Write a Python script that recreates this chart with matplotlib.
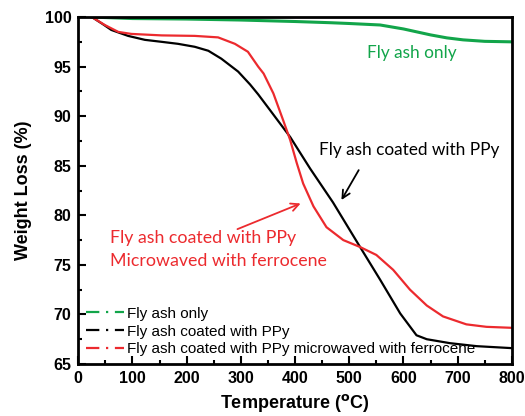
import matplotlib
matplotlib.use('Agg')
import matplotlib.pyplot as plt
from matplotlib.lines import Line2D

# TGA curves (temperature in C, weight in %)
green_T = [25, 100, 200, 300, 400, 465, 500, 557, 600, 650, 680, 710, 750, 800]
green_W = [100.0, 99.85, 99.8, 99.7, 99.55, 99.43, 99.35, 99.2, 98.8, 98.2, 97.9, 97.7, 97.55, 97.5]

black_T = [25, 28, 45, 61, 92, 123, 154, 184, 215, 240, 264, 295, 317, 332, 354, 391, 428,
           470, 520, 557, 594, 624, 643, 686, 735, 800]
black_W = [100.0, 99.9, 99.3, 98.7, 98.1, 97.7, 97.5, 97.3, 97.0, 96.6, 95.8, 94.5, 93.2, 92.2,
           90.6, 87.9, 84.7, 81.3, 76.8, 73.5, 70.1, 67.9, 67.5, 67.1, 66.8, 66.6]

red_T = [25, 49, 74, 98, 154, 215, 258, 289, 313, 332, 342, 360, 378, 391, 403, 415, 434, 458,
         489, 520, 550, 581, 612, 643, 673, 716, 753, 800]
red_W = [100.0, 99.2, 98.5, 98.3, 98.15, 98.1, 97.95, 97.3, 96.5, 95.0, 94.3, 92.3, 89.6, 87.6,
         85.3, 83.2, 80.9, 78.8, 77.5, 76.8, 76.0, 74.5, 72.5, 70.9, 69.8, 69.0, 68.75, 68.65]

labels = ['Fly ash only', 'Fly ash coated with PPy', 'Fly ash coated with PPy microwaved with ferrocene']

green = '#12a54a'
red = '#ec2a2e'
black = 'black'

plt.rcParams['font.family'] = ['Liberation Sans', 'DejaVu Sans']

fig = plt.figure(figsize=(5.25, 4.16), dpi=100)
ax = fig.add_axes([0.149, 0.125, 0.826, 0.834])

ax.plot(green_T, green_W, color=green, lw=2.2)
ax.plot(black_T, black_W, color=black, lw=1.6)
ax.plot(red_T, red_W, color=red, lw=1.6)

ax.set_xlim(0, 800)
ax.set_ylim(65, 100)
ax.set_xticks(range(0, 801, 100))
ax.set_xticks(range(50, 801, 100), minor=True)
ax.set_yticks(range(65, 101, 5))
ax.set_yticks([67.5 + 5 * i for i in range(7)], minor=True)
ax.tick_params(which='major', direction='in', length=6, width=1.5, labelsize=11.5, pad=5)
ax.tick_params(which='minor', direction='in', length=3, width=1.5)
for lab in ax.get_xticklabels() + ax.get_yticklabels():
    lab.set_fontweight('bold')
for sp in ax.spines.values():
    sp.set_linewidth(2)

ax.set_xlabel(r'Temperature ($^{\mathbf{o}}$C)', fontsize=13, fontweight='bold', labelpad=4)
ax.set_ylabel('Weight Loss (%)', fontsize=13, fontweight='bold', labelpad=9)

# annotations
ax.text(616, 96.4, 'Fly ash only', color=green, fontsize=12.4, family='Lato',
        ha='center', va='center')
ax.text(610, 86.6, 'Fly ash coated with PPy', color='black', fontsize=12.4, family='Lato',
        ha='center', va='center')
ax.text(59, 77.7, 'Fly ash coated with PPy', color=red, fontsize=12.8, family='Lato',
        ha='left', va='center')
ax.text(59, 75.4, 'Microwaved with ferrocene', color=red, fontsize=12.8, family='Lato',
        ha='left', va='center')
ax.annotate('', xy=(483, 81.3), xytext=(520, 84.8),
            arrowprops=dict(arrowstyle='->', color='black', lw=1.3, mutation_scale=14))
ax.annotate('', xy=(415, 81.3), xytext=(289, 78.5),
            arrowprops=dict(arrowstyle='->', color=red, lw=1.3, mutation_scale=14))

handles = [Line2D([], [], color=c, lw=1.6, linestyle=(0, (6, 3, 1, 3)))
           for c in (green, black, red)]
ax.legend(handles, labels, loc='lower left', bbox_to_anchor=(0.0, 0.0), frameon=False,
          fontsize=11, handlelength=2.5, handletextpad=0.18, labelspacing=0.25,
          borderpad=0.3, borderaxespad=0.2)

fig.savefig('out.png', dpi=100)
